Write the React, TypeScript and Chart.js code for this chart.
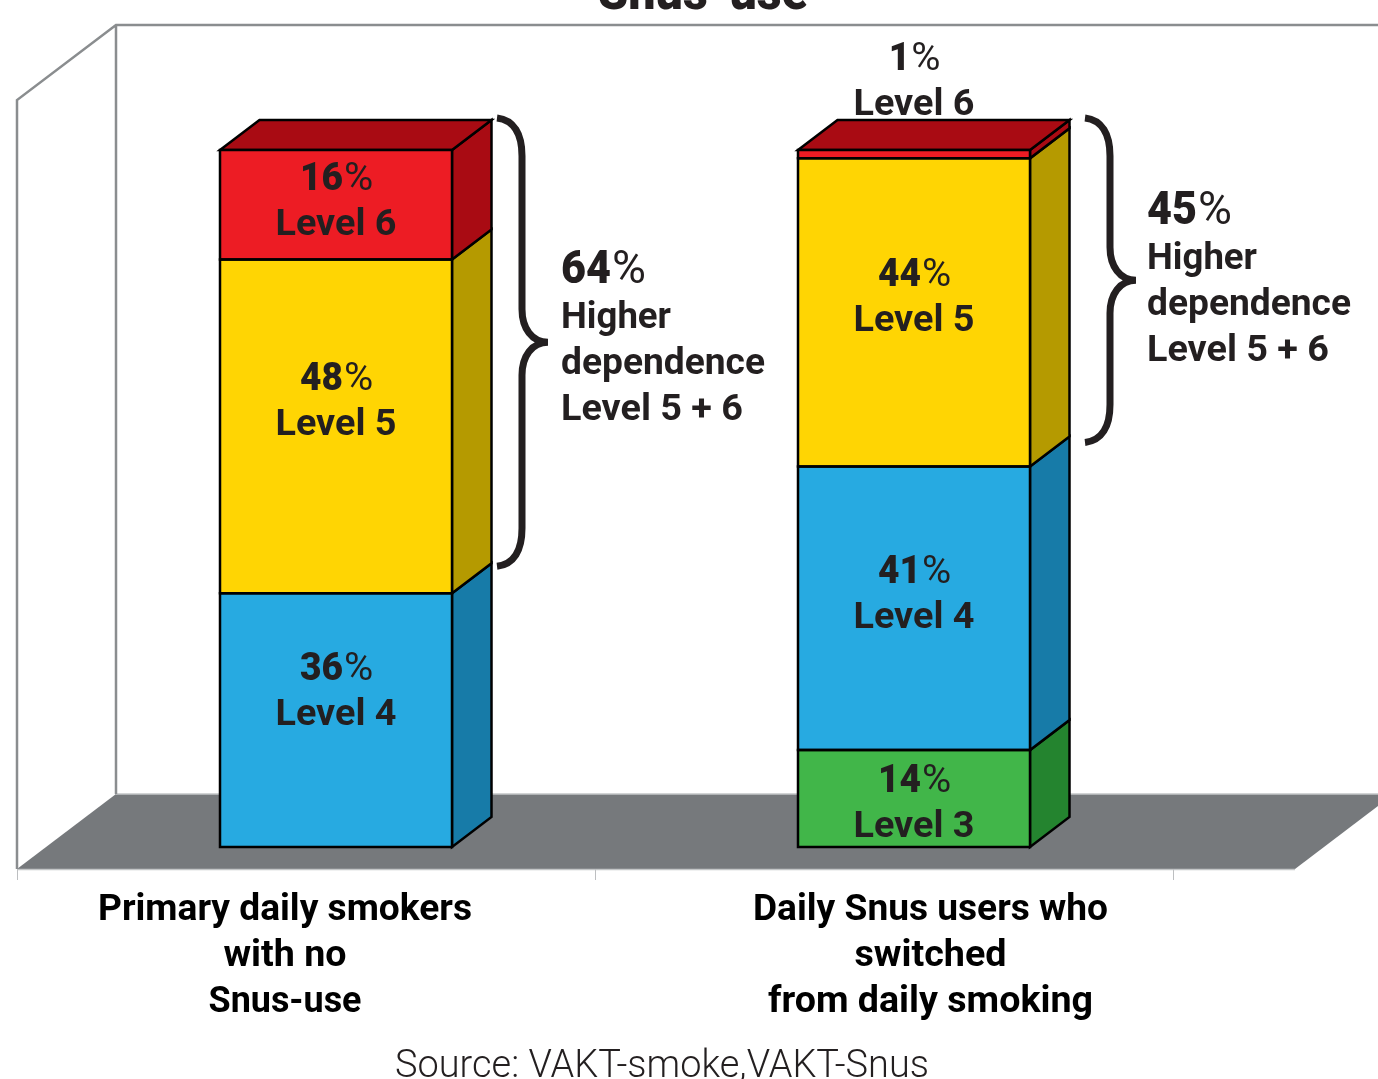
import React, { useEffect, useRef } from "react";
import { Chart, registerables } from "chart.js";

Chart.register(...registerables);

const categories = ["Primary daily smokers with no Snus-use", "Daily Snus users who switched from daily smoking"];
const level3 = [null, 13.9];
const level4 = [36.4, 40.7];
const level5 = [47.9, 44.2];
const level6 = [15.7, 1.2];
const levelNames = ["Level 3", "Level 4", "Level 5", "Level 6"];
const frontColors = ["#41B649", "#27AAE1", "#FFD503", "#ED1C24"];
const sideColors = ["#24842F", "#177BA8", "#B59A00", "#A90B13"];
const titleText = "Snus-use";
const sourceText = "Source: VAKT-smoke,VAKT-Snus";
const firstCategoryLines = ["Primary daily smokers", "with no", "Snus-use"];
const secondCategoryLines = ["Daily Snus users who", "switched", "from daily smoking"];
const calloutLabels = ["Higher", "dependence", "Level 5 + 6"];

// layout only
const W = 1378, H = 1079;
const DX = 39.5, DY = 30;
const INK = "#231F20";
const BOLD = "Roboto";
const labelDy = [[0, 6, 10, 31], [39, 21, 20, -38]];

function fitText(ctx: any, text: string, x: number, y: number, width: number, font: string, color: string) {
  ctx.save();
  ctx.font = font;
  ctx.fillStyle = color;
  ctx.textAlign = "left";
  ctx.textBaseline = "alphabetic";
  const natural = ctx.measureText(text).width;
  ctx.translate(x, y);
  ctx.scale(width / natural, 1);
  ctx.fillText(text, 0, 0);
  ctx.restore();
}

function fitCentered(ctx: any, text: string, cx: number, y: number, width: number, font: string, color: string) {
  fitText(ctx, text, cx - width / 2, y, width, font, color);
}

function pct(ctx: any, value: number, left: number, y: number, size: number, digitWidth: number, center: boolean) {
  const digits = String(Math.round(value));
  const dw = digitWidth * digits.length;
  const pw = digitWidth * 1.36;
  const x0 = center ? left - (dw + pw) / 2 : left;
  fitText(ctx, digits, x0, y, dw, `900 ${size}px ${BOLD}`, INK);
  fitText(ctx, "%", x0 + dw + 1, y, pw, `${size}px ${BOLD}`, INK);
}

function poly(ctx: any, pts: number[][], fill: string | null, stroke: string | null, lw = 2.5) {
  ctx.beginPath();
  pts.forEach((p, i) => (i ? ctx.lineTo(p[0], p[1]) : ctx.moveTo(p[0], p[1])));
  ctx.closePath();
  if (fill) { ctx.fillStyle = fill; ctx.fill(); }
  if (stroke) { ctx.strokeStyle = stroke; ctx.lineWidth = lw; ctx.lineJoin = "miter"; ctx.stroke(); }
}

function brace(ctx: any, x0: number, top: number, bottom: number) {
  const spine = x0 + 25, tip = x0 + 51, mid = (top + bottom) / 2;
  ctx.save();
  ctx.strokeStyle = INK;
  ctx.lineWidth = 7;
  ctx.lineCap = "butt";
  ctx.beginPath();
  ctx.moveTo(x0, top);
  ctx.bezierCurveTo(x0 + 17, top + 2, spine, top + 16, spine, top + 38);
  ctx.lineTo(spine, mid - 33);
  ctx.bezierCurveTo(spine, mid - 14, spine + 10, mid, tip, mid);
  ctx.bezierCurveTo(spine + 10, mid, spine, mid + 14, spine, mid + 33);
  ctx.lineTo(spine, bottom - 38);
  ctx.bezierCurveTo(spine, bottom - 16, x0 + 17, bottom - 2, x0, bottom);
  ctx.stroke();
  ctx.restore();
}

const chart3d = {
  id: "chart3d",
  beforeDatasetsDraw(chart: any) {
    const { ctx, chartArea: a, scales } = chart;
    const y = scales.y;
    const floorFront = y.getPixelForValue(0) + 22;
    const floorBack = floorFront - 75;
    const left = a.left - 30;
    const backLeft = left + 99;
    const wallTop = y.getPixelForValue(100) - 125;
    const sideTop = wallTop + 75;
    ctx.save();
    // floor
    poly(ctx, [[left, floorFront], [backLeft, floorBack], [W + 16, floorBack], [1295, floorFront]], "#76797C", null);
    ctx.strokeStyle = "#C4C6C7"; ctx.lineWidth = 1.5;
    ctx.beginPath();
    ctx.moveTo(backLeft, floorBack); ctx.lineTo(W, floorBack);
    ctx.moveTo(left, floorFront + 0.5); ctx.lineTo(1295, floorFront + 0.5);
    ctx.stroke();
    // walls
    ctx.strokeStyle = "#8A8D8F"; ctx.lineWidth = 2.5;
    ctx.beginPath();
    ctx.moveTo(left, floorFront); ctx.lineTo(left, sideTop); ctx.lineTo(backLeft, wallTop); ctx.lineTo(W, wallTop);
    ctx.moveTo(backLeft, wallTop); ctx.lineTo(backLeft, floorBack);
    ctx.stroke();
    // tick marks between categories
    ctx.strokeStyle = "#BDBFC1"; ctx.lineWidth = 1;
    const step = (a.right - a.left) / categories.length;
    for (let i = 0; i <= categories.length; i++) {
      const tx = Math.round(left + step * i) + 0.5;
      ctx.beginPath(); ctx.moveTo(tx, floorFront); ctx.lineTo(tx, floorFront + 11); ctx.stroke();
    }
    // bar sides and tops
    categories.forEach((_, c) => {
      let topY = 0, topL = 0, topR = 0;
      chart.data.datasets.forEach((ds: any, d: number) => {
        const el = chart.getDatasetMeta(d).data[c];
        if (ds.data[c] == null) return;
        const r = el.x + el.width / 2;
        poly(ctx, [[r, el.y], [r + DX, el.y - DY], [r + DX, el.base - DY], [r, el.base]], sideColors[d], "#000");
        topY = el.y; topL = el.x - el.width / 2; topR = r;
      });
      poly(ctx, [[topL, topY], [topL + DX, topY - DY], [topR + DX, topY - DY], [topR, topY]], sideColors[3], "#000");
    });
    ctx.restore();
  },
  afterDatasetsDraw(chart: any) {
    const { ctx, scales } = chart;
    const { x: xs, y: ys } = scales;
    // outlines of the front faces, centred on the value edges
    categories.forEach((_, c) => {
      chart.data.datasets.forEach((ds: any, d: number) => {
        if (ds.data[c] == null) return;
        const el = chart.getDatasetMeta(d).data[c];
        const l = el.x - el.width / 2, r = el.x + el.width / 2;
        poly(ctx, [[l, el.y], [r, el.y], [r, el.base], [l, el.base]], null, "#000");
      });
    });
    categories.forEach((_, c) => {
      const cx = xs.getPixelForValue(c);
      let sum = 0;
      chart.data.datasets.forEach((ds: any, d: number) => {
        const v = ds.data[c];
        if (v == null) return;
        const mid = ys.getPixelForValue(sum + v / 2);
        sum += v;
        const base = Math.round(mid + labelDy[c][d]) - 1;
        fitCentered(ctx, levelNames[d], cx, base, 121, `bold 37px ${BOLD}`, INK);
        pct(ctx, v, cx, base - 45, 39, 21.5, true);
      });
    });

    // braces
    const y100 = ys.getPixelForValue(100);
    const dep0 = level6[0] + level5[0], dep1 = level6[1] + level5[1];
    brace(ctx, 497, y100 - 32, ys.getPixelForValue(100 - dep0) - 27);
    brace(ctx, 1085, y100 - 32, ys.getPixelForValue(100 - dep1) - 24);

    // call-outs
    pct(ctx, dep0, 561, 283, 47, 25, false);
    pct(ctx, dep1, 1147, 224, 47, 25, false);
    const w = [110, 204, 182];
    calloutLabels.forEach((t, i) => {
      fitText(ctx, t, 561, 328 + i * 46, w[i], `bold 37px ${BOLD}`, INK);
      fitText(ctx, t, 1147, 269 + i * 46, w[i], `bold 37px ${BOLD}`, INK);
    });

    // category labels
    const w1 = [374, 123, 153];
    const w2 = [355, 152, 325];
    firstCategoryLines.forEach((t, i) => fitCentered(ctx, t, 285, 920 + i * 46, w1[i], `bold 37px ${BOLD}`, "#000"));
    secondCategoryLines.forEach((t, i) => fitCentered(ctx, t, 930.5, 920 + i * 46, w2[i], `bold 37px ${BOLD}`, "#000"));

    // title and source
    fitCentered(ctx, titleText, 703, 9, 210, `900 52px ${BOLD}`, INK);
    fitCentered(ctx, sourceText, 662, 1077, 534, `300 38px ${BOLD}`, INK);
  },
};

export default function App() {
  const ref = useRef<HTMLCanvasElement | null>(null);
  useEffect(() => {
    const chart = new Chart(ref.current as HTMLCanvasElement, {
      type: "bar",
      data: {
        labels: categories,
        datasets: [level3, level4, level5, level6].map((data, i) => ({
          label: levelNames[i],
          data,
          backgroundColor: frontColors[i],
          borderWidth: 0,
          barThickness: 232,
        })),
      } as any,
      options: {
        animation: false,
        responsive: false,
        devicePixelRatio: 1,
        layout: { padding: { left: 47, right: W - 1203, top: 150, bottom: H - 847 } },
        plugins: { legend: { display: false }, tooltip: { enabled: false } },
        scales: {
          x: { stacked: true, display: false },
          y: { stacked: true, display: false, min: 0, max: 100 },
        },
      } as any,
      plugins: [chart3d],
    });
    return () => chart.destroy();
  }, []);
  return (
    <canvas
      ref={ref}
      width={W}
      height={H}
      style={{ position: "absolute", left: 0, top: 0, width: W, height: H, display: "block" }}
    />
  );
}
